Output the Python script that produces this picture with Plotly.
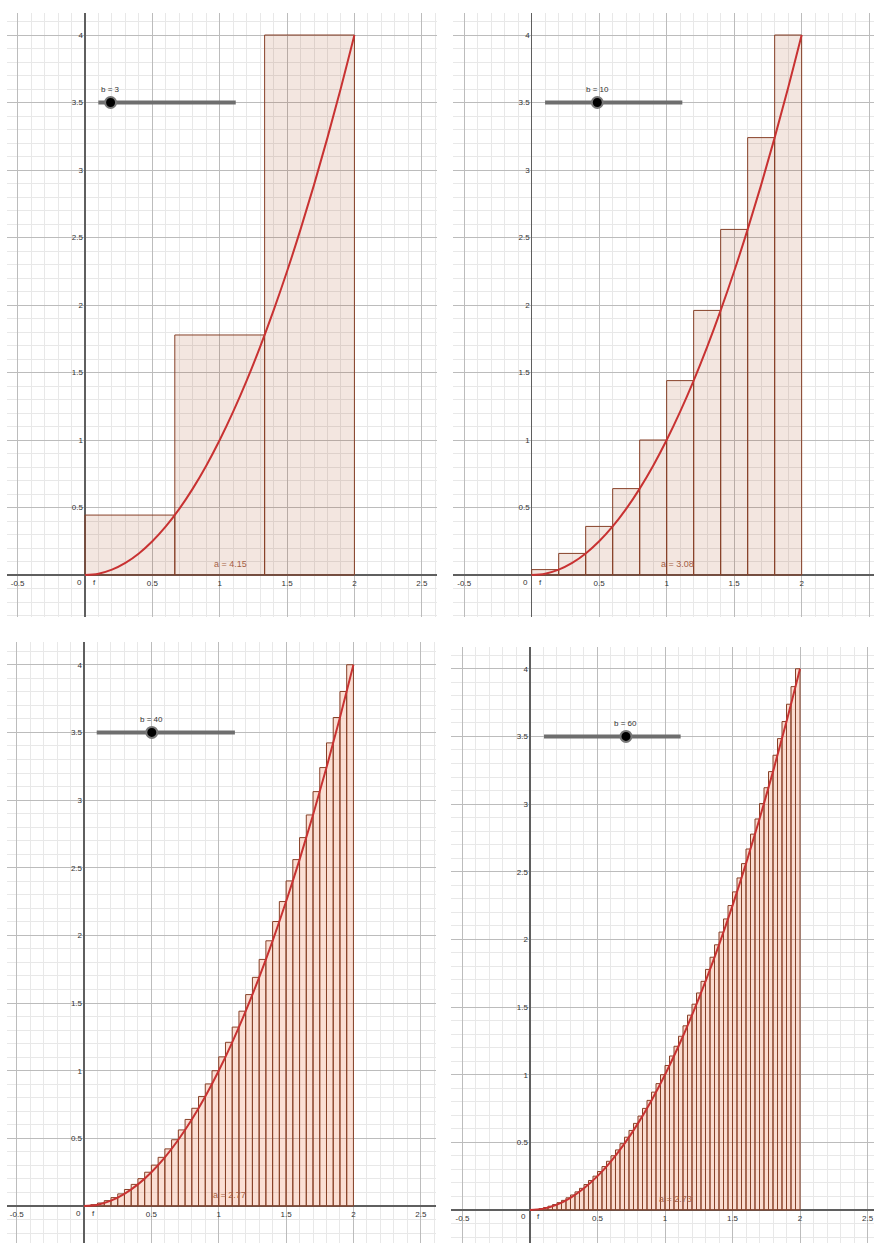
import plotly.graph_objects as go

# ---------------- data ----------------
interval = (0.0, 2.0)                 # integration interval of f(x) = x^2
n_values = [3, 10, 40, 60]            # slider value b (number of rectangles)
sum_labels = ["a = 4.15", "a = 3.08", "a = 2.77", "a = 2.73"]

heights_3 = [0.444, 1.778, 4.0]
heights_10 = [0.04, 0.16, 0.36, 0.64, 1.0, 1.44, 1.96, 2.56, 3.24, 4.0]
heights_40 = [0.0025, 0.01, 0.0225, 0.04, 0.0625, 0.09, 0.1225, 0.16, 0.2025, 0.25,
              0.3025, 0.36, 0.4225, 0.49, 0.5625, 0.64, 0.7225, 0.81, 0.9025, 1.0,
              1.1025, 1.21, 1.3225, 1.44, 1.5625, 1.69, 1.8225, 1.96, 2.1025, 2.25,
              2.4025, 2.56, 2.7225, 2.89, 3.0625, 3.24, 3.4225, 3.61, 3.8025, 4.0]
heights_60 = [0.001, 0.004, 0.010, 0.018, 0.028, 0.040, 0.054, 0.071, 0.090, 0.111,
              0.134, 0.160, 0.188, 0.218, 0.250, 0.284, 0.321, 0.360, 0.401, 0.444,
              0.490, 0.538, 0.588, 0.640, 0.694, 0.751, 0.810, 0.871, 0.934, 1.000,
              1.068, 1.138, 1.210, 1.284, 1.361, 1.440, 1.521, 1.604, 1.690, 1.778,
              1.868, 1.960, 2.054, 2.151, 2.250, 2.351, 2.454, 2.560, 2.668, 2.778,
              2.890, 3.004, 3.121, 3.240, 3.361, 3.484, 3.610, 3.738, 3.868, 4.000]
all_heights = [heights_3, heights_10, heights_40, heights_60]

curve_x = [0.0, 0.1, 0.2, 0.3, 0.4, 0.5, 0.6, 0.7, 0.8, 0.9, 1.0,
           1.1, 1.2, 1.3, 1.4, 1.5, 1.6, 1.7, 1.8, 1.9, 2.0]
curve_y = [0.0, 0.01, 0.04, 0.09, 0.16, 0.25, 0.36, 0.49, 0.64, 0.81, 1.0,
           1.21, 1.44, 1.69, 1.96, 2.25, 2.56, 2.89, 3.24, 3.61, 4.0]

x_tick_vals = [-0.5, 0.5, 1, 1.5, 2, 2.5]
x_tick_text = ["-0.5", "0.5", "1", "1.5", "2", "2.5"]
y_tick_vals = [0.5, 1, 1.5, 2, 2.5, 3, 3.5, 4]
y_tick_text = ["0.5", "1", "1.5", "2", "2.5", "3", "3.5", "4"]

# ---------------- layout of the four screenshots ----------------
W, H = 874, 1243
panels = [
    dict(px=(7, 437), py=(13, 617), xr=(-0.579, 2.613), yr=(-0.311, 4.163),
         slider=(0.099, 1.119), knob=0.19, fill="rgba(153,51,0,0.12)"),
    dict(px=(453, 874), py=(13, 617), xr=(-0.583, 2.536), yr=(-0.311, 4.163),
         slider=(0.099, 1.116), knob=0.486, fill="rgba(153,51,0,0.12)"),
    dict(px=(7, 436), py=(642, 1243), xr=(-0.572, 2.613), yr=(-0.273, 4.168),
         slider=(0.094, 1.12), knob=0.503, fill="rgba(240,140,100,0.28)"),
    dict(px=(451, 874), py=(647, 1243), xr=(-0.585, 2.548), yr=(-0.244, 4.161),
         slider=(0.104, 1.116), knob=0.711, fill="rgba(240,140,100,0.3)"),
]

slider_y = 3.5
edge_color = "rgb(135,65,40)"
curve_color = "rgb(200,50,50)"
label_font = dict(family="Liberation Sans, Arial, sans-serif", size=8, color="#333")

fig = go.Figure()
layout_axes = {}
annotations = []

for i, (p, n, heights, a_lab) in enumerate(zip(panels, n_values, all_heights, sum_labels)):
    k = "" if i == 0 else str(i + 1)
    xref, yref = "x" + k, "y" + k
    xd = [p["px"][0] / W, p["px"][1] / W]
    yd = [1 - p["py"][1] / H, 1 - p["py"][0] / H]
    xr, yr = p["xr"], p["yr"]
    # paper position of the axis lines (x axis at y=0, y axis at x=0)
    xpos = yd[0] + (0 - yr[0]) / (yr[1] - yr[0]) * (yd[1] - yd[0])
    ypos = xd[0] + (0 - xr[0]) / (xr[1] - xr[0]) * (xd[1] - xd[0])

    common = dict(
        showgrid=True, gridcolor="rgb(188,188,188)", gridwidth=1,
        zeroline=True, zerolinecolor="rgb(95,95,95)", zerolinewidth=1.6,
        showline=False, ticks="", tickfont=label_font, fixedrange=True,
        minor=dict(tickmode="linear", tick0=0, dtick=0.1, showgrid=True,
                   gridcolor="rgb(232,232,232)", gridwidth=1, ticks=""),
    )
    layout_axes["xaxis" + k] = dict(
        common, domain=xd, range=list(xr), anchor="free", position=xpos,
        tickmode="array", tickvals=x_tick_vals, ticktext=x_tick_text,
        ticklabelstandoff=2,
    )
    layout_axes["yaxis" + k] = dict(
        common, domain=yd, range=list(yr), anchor="free", position=ypos,
        tickmode="array", tickvals=y_tick_vals, ticktext=y_tick_text,
        ticklabelstandoff=2,
    )

    # rectangles of the upper sum
    w = (interval[1] - interval[0]) / n
    centers = [interval[0] + (j + 0.5) * w for j in range(n)]
    fig.add_trace(go.Bar(
        x=centers, y=heights, width=w, base=0, xaxis=xref, yaxis=yref,
        marker=dict(color=p["fill"], line=dict(color=edge_color, width=1)),
        hoverinfo="skip", showlegend=False,
    ))
    # function curve
    fig.add_trace(go.Scatter(
        x=curve_x, y=curve_y, mode="lines", xaxis=xref, yaxis=yref,
        line=dict(color=curve_color, width=2, shape="spline"),
        hoverinfo="skip", showlegend=False,
    ))
    # slider
    fig.add_trace(go.Scatter(
        x=list(p["slider"]), y=[slider_y, slider_y], mode="lines",
        xaxis=xref, yaxis=yref, line=dict(color="rgb(110,110,110)", width=4),
        hoverinfo="skip", showlegend=False,
    ))
    fig.add_trace(go.Scatter(
        x=[p["knob"]], y=[slider_y], mode="markers", xaxis=xref, yaxis=yref,
        marker=dict(color="black", size=11, line=dict(color="rgb(120,120,120)", width=2)),
        hoverinfo="skip", showlegend=False,
    ))
    annotations.append(dict(x=p["knob"], y=slider_y, xref=xref, yref=yref,
                            text="b = %d" % n, showarrow=False, yshift=13,
                            font=label_font))
    annotations.append(dict(x=1.077, y=0.08, xref=xref, yref=yref, text=a_lab,
                            showarrow=False,
                            font=dict(family=label_font["family"], size=9,
                                      color="rgb(165,95,70)")))
    annotations.append(dict(x=0, y=0, xref=xref, yref=yref, text="0",
                            showarrow=False, xshift=-6, yshift=-7, font=label_font))
    annotations.append(dict(x=0, y=0, xref=xref, yref=yref, text="f",
                            showarrow=False, xshift=9, yshift=-7, font=label_font))

fig.update_layout(
    width=W, height=H, margin=dict(l=0, r=0, t=0, b=0),
    paper_bgcolor="white", plot_bgcolor="white",
    showlegend=False, barmode="overlay",
    annotations=annotations, **layout_axes,
)

fig.write_html("out.html",
               config={"displayModeBar": False, "staticPlot": True},
               post_script="document.body.style.margin='0px';"
                           "document.body.style.overflow='hidden';")
